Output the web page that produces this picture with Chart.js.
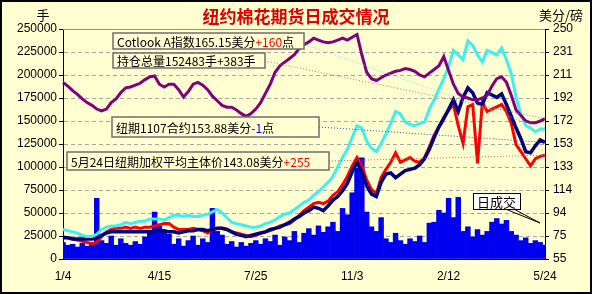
<!DOCTYPE html>
<html lang="zh">
<head>
<meta charset="UTF-8" />
<title>纽约棉花期货日成交情况</title>
<script src="https://cdn.jsdelivr.net/npm/chart.js"></script>
<style>
  body { margin: 0; background: #fff; }
  #wrap { width: 592px; height: 294px; }
</style>
</head>
<body>
<div id="wrap"><canvas id="cotton" width="592" height="294"></canvas></div>
<script>
// x axis labels, one every 20 points
const xTickLabels = ["1/4", "4/15", "7/25", "11/3", "2/12", "5/24"];

// 日成交 (手), left axis
const volume = [
  18000, 15000, 16000, 13000, 17000, 14000, 16000, 66000, 20000, 17000,
  25000, 15000, 22000, 17000, 15000, 19000, 16000, 24000, 30000, 51000,
  36000, 30000, 27000, 16000, 22000, 14000, 20000, 25000, 15000, 22000,
  18000, 55000, 30000, 26000, 16000, 19000, 13000, 18000, 14000, 17000,
  20000, 16000, 22000, 19000, 26000, 15000, 24000, 20000, 30000, 18000,
  28000, 33000, 26000, 36000, 29000, 35000, 40000, 30000, 55000, 48000,
  72000, 99000, 110000, 51000, 35000, 30000, 45000, 22000, 18000, 28000,
  20000, 16000, 22000, 19000, 25000, 18000, 39000, 40000, 53000, 50000,
  66000, 45000, 67000, 30000, 35000, 24000, 32000, 26000, 30000, 40000,
  44000, 38000, 42000, 30000, 26000, 20000, 23000, 17000, 20000, 18000,
  15000
];

// 持仓总量 (手), left axis
const openInterest = [
  192000, 188000, 183000, 179000, 174000, 170000, 167000, 163000, 161000, 163000,
  170000, 174000, 181000, 186000, 187000, 189000, 191000, 195000, 198000, 199000,
  190000, 187000, 190000, 190000, 184000, 176000, 182000, 190000, 192000, 189000,
  184000, 177000, 172000, 167000, 165000, 165000, 162000, 158000, 155000, 158000,
  163000, 170000, 180000, 190000, 203000, 210000, 214000, 218000, 222000, 229000,
  233000, 236000, 240000, 238000, 236000, 235000, 236000, 238000, 240000, 238000,
  241000, 244000, 222000, 203000, 196000, 194000, 197000, 200000, 202000, 204000,
  205000, 207000, 206000, 204000, 200000, 198000, 202000, 206000, 210000, 220000,
  205000, 190000, 180000, 176000, 175000, 173000, 173000, 175000, 178000, 188000,
  196000, 198000, 192000, 178000, 162000, 156000, 150000, 148000, 148000, 150000,
  152483
];

// Cotlook A指数 (美分/磅), right axis
const cotlookA = [
  80, 79, 78, 77, 75, 74, 74, 76, 80, 82,
  83, 83, 84, 86, 85, 86, 87, 87, 89, 89,
  89, 88, 90, 92, 92, 91, 92, 91, 91, 92,
  93, 95, 97, 94, 90, 86, 85, 84, 83, 82,
  82, 83, 85, 86, 88, 91, 93, 94, 97, 100,
  103, 105, 109, 112, 116, 120, 125, 133, 141, 148,
  158, 168, 166, 155, 149, 146, 153, 161, 170, 180,
  178, 171, 169, 168, 170, 171, 182, 190, 199, 208,
  218, 232, 228, 224, 240, 236, 228, 222, 232, 230,
  228, 234, 224, 212, 192, 178, 168, 166, 163, 165,
  165.15
];

// 纽期1107合约 (美分/磅), right axis
const nearby1107 = [
  73, 73, 72, 72, 72, 72, 72, 73, 75, 77,
  78, 78, 78, 78, 78, 78, 78, 78, 78, 79,
  79, 79, 78, 78, 77, 78, 79, 79, 80, 80,
  79, 80, 81, 81, 80, 78, 76, 75, 74, 75,
  76, 77, 78, 80, 81, 82, 84, 86, 89, 91,
  94, 96, 99, 98, 96, 100, 105, 108, 113, 119,
  129, 137, 129, 117, 110, 108, 120, 127, 128, 124,
  127, 130, 131, 132, 135, 140, 148, 158, 167, 174,
  182, 190, 180, 192, 200, 196, 187, 186, 196, 194,
  192, 195, 186, 176, 166, 157, 146, 145, 151, 156,
  153.88
];

// 纽期加权平均主体价 (美分/磅), right axis
const weightedAvg = [
  74, 73, 72, 71, 70, 69, 68, 69, 74, 78,
  80, 81, 81, 82, 81, 82, 81, 82, 82, 83,
  84, 85, 85, 82, 80, 80, 80, 81, 80, 79,
  77, 80, 81, 81, 80, 78, 77, 76, 75, 74,
  75, 77, 78, 79, 81, 83, 84, 85, 88, 92,
  96, 99, 102, 103, 102, 104, 109, 112, 118, 125,
  134, 141, 134, 122, 114, 110, 124, 131, 137, 145,
  137, 139, 141, 138, 137, 141, 150, 160, 167, 175,
  181, 186, 168, 153, 184, 186, 136, 188, 180, 182,
  184, 186, 180, 170, 152, 146, 140, 134, 140, 142,
  143.08
];

const rightTickValues = [55, 74.5, 94, 113.5, 133, 152.5, 172, 191.5, 211, 230.5, 250];
const rightTickLabels = ["55", "75", "94", "114", "133", "153", "172", "192", "211", "231", "250"];

const bg = "#FFFFD2";
const cjk = "'Noto Sans CJK SC', sans-serif";

// text boxes with their leader lines
const notes = [
  { x: 113, y: 33, w: 191, h: 16, from: [304, 44], data: cotlookA, axis: "yR", lead: "#66e0e0",
    segs: [["Cotlook A指数165.15美分", "#000"], ["+160", "#f00"], ["点", "#000"]] },
  { x: 113, y: 53, w: 152, h: 15, from: [265, 61], data: openInterest, axis: "y", lead: "#c07878",
    segs: [["持仓总量152483手+383手", "#000"]] },
  { x: 112, y: 117, w: 207, h: 20, from: [319, 127], data: nearby1107, axis: "yR", lead: "#4040c0",
    segs: [["纽期1107合约153.88美分", "#000"], ["-1", "#00f"], ["点", "#000"]] },
  { x: 67, y: 152, w: 262, h: 18, from: [329, 161], data: weightedAvg, axis: "yR", lead: "#e06060",
    segs: [["5月24日纽期加权平均主体价143.08美分", "#000"], ["+255", "#f00"]] }
];

function drawSegs(ctx, x, y, segs) {
  segs.forEach(([t, col]) => {
    ctx.fillStyle = col;
    ctx.fillText(t, x, y);
    x += ctx.measureText(t).width;
  });
}

const decor = {
  id: "decor",
  beforeDraw(c) {
    const ctx = c.ctx;
    ctx.save();
    ctx.fillStyle = bg;
    ctx.fillRect(0, 0, c.width, c.height);
    ctx.restore();
  },
  afterDatasetsDraw(c) {
    const ctx = c.ctx;
    const last = volume.length - 1;
    const ex = c.scales.x.getPixelForValue(last);
    ctx.save();
    // dotted leaders to the last value of each series
    notes.forEach(n => {
      const ey = c.scales[n.axis].getPixelForValue(n.data[last]);
      ctx.strokeStyle = n.lead;
      ctx.lineWidth = 1;
      ctx.setLineDash([1, 2]);
      ctx.beginPath();
      ctx.moveTo(n.from[0], n.from[1]);
      ctx.lineTo(ex, ey);
      ctx.stroke();
    });
    ctx.setLineDash([]);
    ctx.font = "12px " + cjk;
    ctx.textBaseline = "middle";
    notes.forEach(n => {
      ctx.fillStyle = bg;
      ctx.fillRect(n.x, n.y, n.w, n.h);
      ctx.strokeStyle = "#6e6e6e";
      ctx.lineWidth = 1.5;
      ctx.strokeRect(n.x, n.y, n.w, n.h);
      drawSegs(ctx, n.x + 4, n.y + n.h / 2 + 1, n.segs);
    });
    // 日成交 callout
    ctx.strokeStyle = "#000";
    ctx.lineWidth = 1;
    ctx.beginPath();
    ctx.moveTo(503, 208); ctx.lineTo(540, 223);
    ctx.moveTo(512, 208); ctx.lineTo(540, 223);
    ctx.stroke();
    ctx.fillStyle = "#fff";
    ctx.fillRect(473, 193, 47, 16);
    ctx.strokeRect(473.5, 193.5, 47, 16);
    ctx.fillStyle = "#000";
    ctx.font = "13px " + cjk;
    ctx.fillText("日成交", 477, 202);
    ctx.restore();
  },
  afterDraw(c) {
    const ctx = c.ctx;
    const a = c.chartArea;
    ctx.save();
    // top frame of plot area
    ctx.strokeStyle = "#909090";
    ctx.lineWidth = 1;
    ctx.beginPath();
    ctx.moveTo(a.left, a.top + 0.5);
    ctx.lineTo(a.right, a.top + 0.5);
    ctx.stroke();
    // title and units
    ctx.textBaseline = "middle";
    ctx.textAlign = "center";
    ctx.fillStyle = "#e00000";
    ctx.font = "bold 17px " + cjk;
    ctx.fillText("纽约棉花期货日成交情况", 296, 17);
    ctx.fillStyle = "#000";
    ctx.font = "13px " + cjk;
    ctx.fillText("手", 43, 15);
    ctx.fillText("美分/磅", 561, 15);
    // outer border
    ctx.strokeStyle = "#000";
    ctx.lineWidth = 2;
    ctx.strokeRect(1, 1, c.width - 2, c.height - 2);
    ctx.restore();
  }
};

const tickFont = { family: "'Liberation Sans', sans-serif", size: 12 };

new Chart(document.getElementById("cotton"), {
  type: "bar",
  data: {
    labels: volume.map((v, i) => i),
    datasets: [
      { type: "line", label: "持仓总量", data: openInterest, yAxisID: "y",
        borderColor: "#800080", borderWidth: 3, pointRadius: 0, order: 1 },
      { type: "line", label: "Cotlook A指数", data: cotlookA, yAxisID: "yR",
        borderColor: "#3cf0f0", borderWidth: 3, pointRadius: 0, order: 2 },
      { type: "line", label: "纽期1107合约", data: nearby1107, yAxisID: "yR",
        borderColor: "#000080", borderWidth: 3.5, pointRadius: 0, order: 3 },
      { type: "line", label: "加权平均主体价", data: weightedAvg, yAxisID: "yR",
        borderColor: "#ff0000", borderWidth: 3, pointRadius: 0, order: 4 },
      { type: "bar", label: "日成交", data: volume, yAxisID: "y",
        backgroundColor: "#0000f0", borderWidth: 0,
        barPercentage: 1, categoryPercentage: 1, order: 5 }
    ]
  },
  options: {
    responsive: false,
    animation: false,
    devicePixelRatio: 1,
    layout: { padding: { top: 29, left: 0, right: 0, bottom: 0 } },
    plugins: { legend: { display: false }, tooltip: { enabled: false } },
    scales: {
      x: {
        type: "category",
        offset: false,
        grid: { display: false, drawTicks: false },
        border: { color: "#000", width: 1 },
        afterBuildTicks: s => { s.ticks = s.ticks.filter(t => t.value % 20 === 0); },
        afterFit: s => { s.height = 35; },
        ticks: {
          autoSkip: false, maxRotation: 0, padding: 10,
          color: "#000", font: tickFont,
          callback: v => xTickLabels[v / 20]
        }
      },
      y: {
        position: "left",
        min: 0, max: 250000,
        afterFit: s => { s.width = 63; },
        grid: { color: "#a8a8a0", tickColor: "#000", tickLength: 4 },
        border: { color: "#000", width: 1, dash: [4, 3] },
        ticks: { stepSize: 25000, padding: 2, color: "#000", font: tickFont,
          callback: v => String(v) }
      },
      yR: {
        position: "right",
        min: 55, max: 250,
        afterFit: s => { s.width = 47; },
        afterBuildTicks: s => { s.ticks = rightTickValues.map(v => ({ value: v })); },
        grid: { drawOnChartArea: false, tickColor: "#000", tickLength: 4 },
        border: { color: "#000", width: 1 },
        ticks: { padding: 4, color: "#000", font: tickFont,
          callback: (v, i) => rightTickLabels[i] }
      }
    }
  },
  plugins: [decor]
});
</script>
</body>
</html>
